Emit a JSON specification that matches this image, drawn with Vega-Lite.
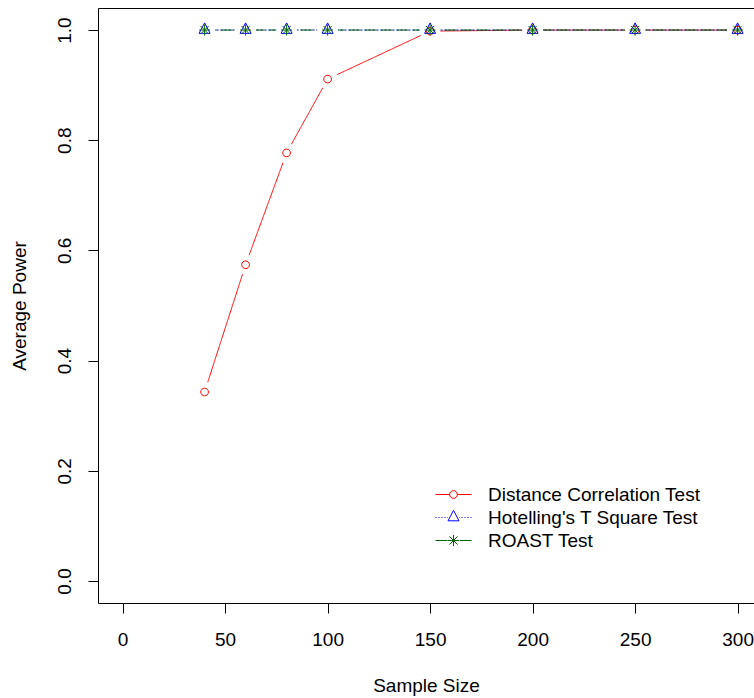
{
  "$schema": "https://vega.github.io/schema/vega-lite/v6.json",
  "width": 656,
  "height": 595,
  "autosize": {"type": "none"},
  "padding": {"left": 98, "top": 8, "right": 0, "bottom": 95},
  "background": "white",
  "data": {
    "values": [
      {"n": 40, "power": 0.343, "test": "Distance Correlation Test"},
      {"n": 60, "power": 0.574, "test": "Distance Correlation Test"},
      {"n": 80, "power": 0.777, "test": "Distance Correlation Test"},
      {"n": 100, "power": 0.911, "test": "Distance Correlation Test"},
      {"n": 150, "power": 0.998, "test": "Distance Correlation Test"},
      {"n": 200, "power": 1.0, "test": "Distance Correlation Test"},
      {"n": 250, "power": 1.0, "test": "Distance Correlation Test"},
      {"n": 300, "power": 1.0, "test": "Distance Correlation Test"},
      {"n": 40, "power": 1.0, "test": "Hotelling's T Square Test"},
      {"n": 60, "power": 1.0, "test": "Hotelling's T Square Test"},
      {"n": 80, "power": 1.0, "test": "Hotelling's T Square Test"},
      {"n": 100, "power": 1.0, "test": "Hotelling's T Square Test"},
      {"n": 150, "power": 1.0, "test": "Hotelling's T Square Test"},
      {"n": 200, "power": 1.0, "test": "Hotelling's T Square Test"},
      {"n": 250, "power": 1.0, "test": "Hotelling's T Square Test"},
      {"n": 300, "power": 1.0, "test": "Hotelling's T Square Test"},
      {"n": 40, "power": 1.0, "test": "ROAST Test"},
      {"n": 60, "power": 1.0, "test": "ROAST Test"},
      {"n": 80, "power": 1.0, "test": "ROAST Test"},
      {"n": 100, "power": 1.0, "test": "ROAST Test"},
      {"n": 150, "power": 1.0, "test": "ROAST Test"},
      {"n": 200, "power": 1.0, "test": "ROAST Test"},
      {"n": 250, "power": 1.0, "test": "ROAST Test"},
      {"n": 300, "power": 1.0, "test": "ROAST Test"}
    ]
  },
  "encoding": {
    "x": {
      "field": "n",
      "type": "quantitative",
      "title": "Sample Size",
      "scale": {"domain": [-12, 308], "nice": false, "zero": false},
      "axis": {
        "values": [0, 50, 100, 150, 200, 250, 300],
        "labelPadding": 17,
        "titlePadding": 27,
        "labelFlush": false,
        "labelOverlap": false
      }
    },
    "y": {
      "field": "power",
      "type": "quantitative",
      "title": "Average Power",
      "scale": {"domain": [-0.04, 1.04], "nice": false, "zero": false},
      "axis": {
        "values": [0, 0.2, 0.4, 0.6, 0.8, 1.0],
        "format": ".1f",
        "labelAngle": -90,
        "labelAlign": "center",
        "labelBaseline": "bottom",
        "labelPadding": 14,
        "titlePadding": 26,
        "labelFlush": false,
        "labelOverlap": false
      }
    }
  },
  "layer": [
    {
      "mark": {"type": "line", "strokeWidth": 1},
      "encoding": {
        "color": {
          "field": "test",
          "type": "nominal",
          "scale": {
            "domain": ["Distance Correlation Test", "Hotelling's T Square Test", "ROAST Test"],
            "range": ["#ff0000", "#0000ff", "#006400"]
          },
          "legend": null
        },
        "strokeDash": {
          "field": "test",
          "type": "nominal",
          "scale": {"range": [[1, 0], [2, 2], [12, 4]]},
          "legend": null
        }
      }
    },
    {
      "mark": {"type": "point", "shape": "circle", "filled": true, "color": "white", "opacity": 1, "size": 420, "strokeWidth": 0}
    },
    {
      "mark": {"type": "point", "filled": false, "opacity": 1, "strokeWidth": 1, "size": 121},
      "encoding": {
        "color": {"field": "test", "type": "nominal", "legend": null},
        "shape": {
          "field": "test",
          "type": "nominal",
          "scale": {
            "range": [
              "M0.7,0A0.7,0.7 0 1,1 -0.7,0A0.7,0.7 0 1,1 0.7,0Z",
              "M0,-1.3L1,0.6L-1,0.6Z",
              "M-1,0L1,0M0,-1L0,1M-0.75,-0.75L0.75,0.75M-0.75,0.75L0.75,-0.75"
            ]
          },
          "legend": null
        }
      }
    },
    {
      "mark": {"type": "point", "filled": false, "opacity": 0, "size": 400},
      "encoding": {
        "shape": {
          "field": "test",
          "type": "nominal",
          "scale": {
            "range": [
              "M-1.8,0L-0.385,0M0.385,0L1.8,0M0.385,0A0.385,0.385 0 1,1 -0.385,0A0.385,0.385 0 1,1 0.385,0",
              "M-1.8,0L-1.7,0M-1.5,0L-1.4,0M-1.2,0L-1.1,0M-0.9,0L-0.8,0M-0.65,0L-0.6,0M0.6,0L0.65,0M0.8,0L0.9,0M1.1,0L1.2,0M1.4,0L1.5,0M1.7,0L1.8,0M0,-0.715L0.55,0.33L-0.55,0.33Z",
              "M-1.8,0L-0.6,0M0.6,0L1.8,0M-0.55,0L0.55,0M0,-0.55L0,0.55M-0.41,-0.41L0.41,0.41M-0.41,0.41L0.41,-0.41"
            ]
          },
          "legend": {
            "title": null,
            "orient": "none",
            "legendX": 345,
            "legendY": 476,
            "padding": 0,
            "rowPadding": 2,
            "labelOffset": 24,
            "labelFont": "Liberation Sans",
            "labelFontSize": 19,
            "labelColor": "#000000",
            "labelLimit": 400,
            "symbolSize": 400,
            "symbolStrokeWidth": 1,
            "symbolOpacity": 1,
            "symbolFillColor": "transparent",
            "symbolStrokeColor": {"expr": "scale('color', datum.value)"},
            "encode": {
              "symbols": {
                "update": {
                  "stroke": {"signal": "scale('color', datum.value)"},
                  "fill": {"value": "transparent"},
                  "opacity": {"value": 1},
                  "strokeWidth": {"value": 1}
                }
              }
            }
          }
        }
      }
    }
  ],
  "resolve": {"scale": {"shape": "independent"}},
  "config": {
    "view": {"stroke": "#000000", "strokeWidth": 1},
    "axis": {
      "domain": false,
      "grid": false,
      "tickColor": "#000000",
      "tickSize": 10,
      "tickWidth": 1,
      "labelFont": "Liberation Sans",
      "labelFontSize": 19,
      "labelColor": "#000000",
      "titleFont": "Liberation Sans",
      "titleFontSize": 19,
      "titleFontWeight": "normal",
      "titleColor": "#000000"
    }
  }
}
